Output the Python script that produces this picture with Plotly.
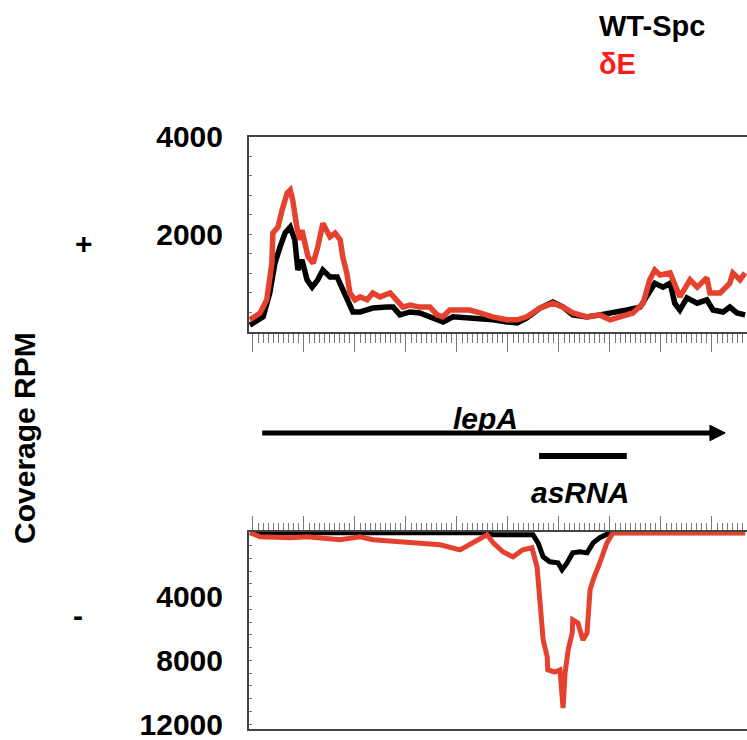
import plotly.graph_objects as go

# ---------------- data ----------------
# top panel (+ strand) positions and coverage (RPM)
plus_wt_x = [-6, 20, 33, 43, 53, 63, 73, 82, 88, 96, 106, 116, 127, 137, 151, 165, 174, 184, 196, 210,
             235, 263, 275, 288, 308, 327, 353, 373, 392, 420, 445, 471, 498, 518, 537, 563, 588, 608,
             627, 655, 680, 706, 733, 759, 778, 788, 804, 818, 827, 837, 851, 871, 890, 902, 922, 935,
             949, 965]
plus_wt_y = [140, 310, 800, 1410, 1740, 2030, 2150, 1890, 1270, 1480, 1070, 920, 1070, 1270, 1130, 1130,
             920, 660, 410, 410, 490, 510, 510, 350, 410, 390, 290, 205, 310, 290, 250, 250, 205, 185,
             290, 490, 615, 510, 350, 310, 350, 390, 450, 510, 800, 1000, 920, 1000, 590, 450, 700, 590,
             660, 450, 410, 510, 390, 350]

plus_de_x = [-6, 14, 27, 37, 39, 49, 57, 67, 73, 78, 86, 92, 96, 102, 108, 118, 127, 137, 145, 151, 161,
             171, 176, 184, 190, 200, 210, 224, 235, 249, 269, 282, 294, 308, 327, 347, 361, 372, 386,
             406, 425, 445, 470, 498, 518, 537, 563, 588, 608, 627, 655, 680, 700, 720, 745, 765, 778,
             788, 798, 818, 824, 837, 857, 871, 890, 896, 916, 935, 941, 955, 965]
plus_de_y = [250, 390, 660, 1410, 2030, 2150, 2500, 2850, 2910, 2700, 2150, 1890, 2090, 1820, 1540, 1410,
             1740, 2230, 2090, 1950, 2030, 1890, 1540, 1210, 800, 660, 720, 660, 800, 720, 800, 660, 510,
             550, 510, 510, 350, 310, 450, 450, 450, 390, 310, 250, 250, 310, 490, 590, 510, 390, 310,
             350, 250, 310, 390, 590, 1070, 1270, 1170, 1210, 1070, 720, 1070, 920, 1110, 800, 800, 1000,
             1210, 1070, 1210]

# bottom panel (- strand) positions and coverage (RPM)
minus_wt_x = [-6, 459, 471, 549, 559, 569, 582, 598, 606, 616, 627, 641, 655, 667, 680, 700, 965]
minus_wt_y = [0, 0, 125, 125, 630, 1510, 1820, 1880, 2320, 1880, 1260, 1190, 1260, 630, 310, 0, 0]

minus_de_x = [-6, 14, 73, 106, 171, 210, 235, 302, 367, 406, 431, 459, 471, 490, 510, 529, 547, 557,
              563, 569, 577, 578, 592, 602, 608, 612, 618, 626, 627, 637, 647, 655, 661, 667, 680, 694,
              706, 965]
minus_de_y = [0, 250, 310, 250, 440, 250, 440, 565, 750, 1070, 630, 125, 630, 1190, 1510, 1070, 940,
              2130, 4400, 6720, 7790, 8600, 8730, 8600, 10990, 8790, 7350, 6280, 5460, 5650, 6720, 6280,
              3580, 2950, 1880, 630, 0, 0]

series_names = ["WT-Spc", "δE"]
series_colors = ["#000000", "#e5412f"]

plus_tickvals = list(range(0, 4001, 400))
plus_ticktext = ["2000" if v == 2000 else ("4000" if v == 4000 else "") for v in plus_tickvals]
minus_tickvals = list(range(0, 12001, 800))
minus_ticktext = [str(v) if v in (4000, 8000, 12000) else "" for v in minus_tickvals]

gene_name = "lepA"
gene_start, gene_end = 18, 926
asrna_name = "asRNA"
asrna_start, asrna_end = 561, 733

# ---------------- figure ----------------
FONT = "Liberation Sans, Arial, Helvetica, sans-serif"
fig = go.Figure()

for xs, ys, name, col in [(plus_wt_x, plus_wt_y, series_names[0], series_colors[0]),
                          (plus_de_x, plus_de_y, series_names[1], series_colors[1])]:
    fig.add_trace(go.Scatter(x=xs, y=ys, mode="lines", name=name, showlegend=False,
                             line=dict(color=col, width=5.5), xaxis="x", yaxis="y"))

for xs, ys, name, col in [(minus_wt_x, minus_wt_y, series_names[0], series_colors[0]),
                          (minus_de_x, minus_de_y, series_names[1], series_colors[1])]:
    fig.add_trace(go.Scatter(x=xs, y=ys, mode="lines", name=name, showlegend=False,
                             line=dict(color=col, width=5), xaxis="x2", yaxis="y2"))

xr = [-7.8, 968.7]
axis_line = "#444444"
tick_col = "#777777"
tfont = dict(family=FONT, size=30, color="black", weight="bold")

fig.update_layout(
    template="none",
    width=747, height=740,
    margin=dict(l=249, r=0, t=0, b=0, pad=0),
    paper_bgcolor="white", plot_bgcolor="white",
    showlegend=False,
    xaxis=dict(domain=[0, 1], range=xr, anchor="y", showgrid=False, zeroline=False, automargin=False,
               showline=True, linecolor=axis_line, linewidth=2, mirror=True,
               ticks="outside", ticklen=18, tickwidth=1, tickcolor=tick_col,
               tick0=0, dtick=100, showticklabels=False,
               minor=dict(ticks="outside", ticklen=9, tickwidth=1, tickcolor=tick_col,
                          dtick=10, tick0=0, showgrid=False)),
    yaxis=dict(domain=[0.5514, 0.8149], range=[0, 4000], anchor="x", showgrid=False, automargin=False,
               zeroline=False, showline=True, linecolor=axis_line, linewidth=2,
               ticks="inside", ticklen=3, tickwidth=1, tickcolor=tick_col,
               tickvals=plus_tickvals, ticktext=plus_ticktext, tickfont=tfont,
               ticklabelstandoff=18),
    xaxis2=dict(domain=[0, 1], range=xr, anchor="y2", side="top", showgrid=False, automargin=False,
                zeroline=False, showline=True, linecolor=axis_line, linewidth=2, mirror=True,
                ticks="outside", ticklen=14, tickwidth=1, tickcolor=tick_col,
                tick0=0, dtick=100, showticklabels=False,
                minor=dict(ticks="outside", ticklen=7, tickwidth=1, tickcolor=tick_col,
                           dtick=10, tick0=0, showgrid=False)),
    yaxis2=dict(domain=[0.0149, 0.2811], range=[12300, -50], anchor="x2", showgrid=False,
                automargin=False, ticklabeloverflow="allow",
                zeroline=False, showline=True, linecolor=axis_line, linewidth=2,
                ticks="inside", ticklen=3, tickwidth=1, tickcolor=tick_col,
                tickvals=minus_tickvals, ticktext=minus_ticktext, tickfont=tfont,
                ticklabelstandoff=18),
)

# gene arrow and asRNA bar
y_gene = 0.4149
fig.add_shape(type="line", xref="x", yref="paper", x0=gene_start, x1=gene_end - 26,
              y0=y_gene, y1=y_gene, line=dict(color="black", width=5))
fig.add_shape(type="path", xref="x", yref="paper",
              path=f"M {gene_end - 30} {y_gene + 0.0105} L {gene_end} {y_gene} L {gene_end - 30} {y_gene - 0.0105} Z",
              fillcolor="black", line=dict(color="black", width=1))
y_as = 0.3838
fig.add_shape(type="line", xref="x", yref="paper", x0=asrna_start, x1=asrna_end,
              y0=y_as, y1=y_as, line=dict(color="black", width=6))

afont = dict(family=FONT, size=30, color="black", weight="bold")
fig.add_annotation(text=f"<i>{gene_name}</i>", xref="x", yref="paper", x=455, y=0.4351,
                   showarrow=False, font=afont, xanchor="center", yanchor="middle")
fig.add_annotation(text=f"<i>{asrna_name}</i>", xref="x", yref="paper",
                   x=(asrna_start + asrna_end) / 2 - 6, y=0.3338,
                   showarrow=False, font=afont, xanchor="center", yanchor="middle")

# legend texts
fig.add_annotation(text=series_names[0], xref="paper", yref="paper", x=0.6988, y=0.9649,
                   showarrow=False, xanchor="left", yanchor="middle",
                   font=dict(family=FONT, size=29, color="black", weight="bold"))
fig.add_annotation(text=series_names[1], xref="paper", yref="paper", x=0.6988, y=0.9135,
                   showarrow=False, xanchor="left", yanchor="middle",
                   font=dict(family=FONT, size=29, color="#ff1a1a", weight="bold"))

# axis title and strand marks
fig.add_annotation(text="Coverage RPM", xref="paper", yref="paper", x=-0.452, y=0.408,
                   textangle=-90, showarrow=False, xanchor="center", yanchor="middle", font=afont)
fig.add_annotation(text="+", xref="paper", yref="paper", x=-0.3313, y=0.6716,
                   showarrow=False, xanchor="center", yanchor="middle", font=afont)
fig.add_annotation(text="-", xref="paper", yref="paper", x=-0.3434, y=0.168,
                   showarrow=False, xanchor="center", yanchor="middle", font=afont)

fig.write_html("out.html", config={"displayModeBar": False},
               post_script="document.body.style.margin='0';document.body.style.overflow='hidden';")
